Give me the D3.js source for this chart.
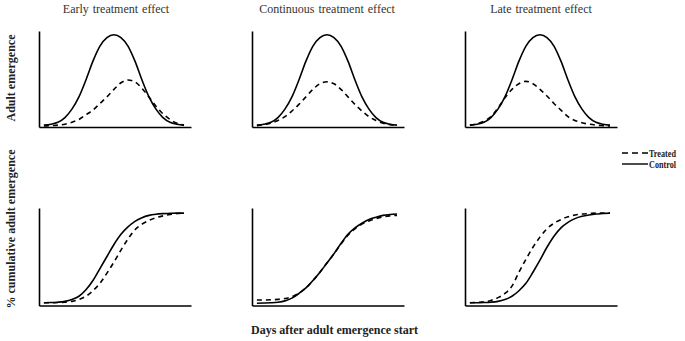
<!DOCTYPE html>
<html>
<head>
<meta charset="utf-8">
<script src="https://cdn.jsdelivr.net/npm/d3@7"></script>
<style>
  body { margin: 0; background: #fff; }
  svg { display: block; font-family: "Liberation Serif", "Times New Roman", serif; }
</style>
</head>
<body>
<div id="chart"></div>
<script>
// days after adult emergence start (half-day steps)
const days = [0, 0.5, 1, 1.5, 2, 2.5, 3, 3.5, 4, 4.5, 5, 5.5, 6, 6.5, 7, 7.5, 8, 8.5, 9, 9.5, 10]

const titles = ["Early treatment effect", "Continuous treatment effect", "Late treatment effect"]
const rowLabels = ["Adult emergence", "% cumulative adult emergence"]
const xLabel = "Days after adult emergence start"
const legendLabels = ["Treated", "Control"]

// adult emergence (top row)
const earlyControl = [2, 3, 5, 10, 19, 32, 50, 70, 86, 95, 98, 95, 86, 70, 50, 32, 19, 10, 5, 3, 2]
const earlyTreated = [1, 1.5, 2, 3, 5, 8, 13, 18, 25, 32, 40, 47, 50, 48, 41, 32, 22, 14, 8, 4, 2]
const contControl = [2, 3, 5, 10, 19, 32, 50, 70, 86, 95, 98, 95, 86, 70, 50, 32, 19, 10, 5, 3, 2]
const contTreated = [1.5, 2.5, 4, 7, 11, 17, 24, 32, 40, 46, 48, 46, 40, 32, 24, 17, 11, 7, 4, 2.5, 1.5]
const lateControl = [2, 3, 5, 10, 19, 32, 50, 70, 86, 95, 98, 95, 86, 70, 50, 32, 19, 10, 5, 3, 2]
const lateTreated = [2, 3.5, 6, 11, 20, 31, 40, 46, 48.5, 46, 40, 33, 25, 18, 11, 7, 4.5, 3, 2, 1.5, 1]

// % cumulative adult emergence (bottom row)
const earlyControlCum = [3, 3.2, 3.6, 4.5, 6.5, 10, 17, 27, 40, 53, 66, 77, 85, 91, 95, 97.5, 98.8, 99.4, 99.7, 100, 100]
const earlyTreatedCum = [3, 3, 3.2, 3.6, 4.5, 6.5, 10, 16, 24, 35, 47, 60, 72, 82, 88, 92, 95, 97, 98.5, 99.5, 100]
const contControlCum = [2.5, 2.7, 3, 3.6, 5, 8, 13, 19, 27, 36, 46, 56, 67, 77, 84, 89, 93, 95.5, 97.5, 98.5, 99]
const contTreatedCum = [6, 6, 6.2, 6.6, 7.5, 9.5, 13.5, 19, 27, 36, 46, 56, 66.5, 76, 83, 88, 91.5, 94, 96, 97, 97.5]
const lateControlCum = [3, 3, 3.2, 3.6, 4.5, 6.5, 10, 16, 24, 36, 49, 63, 75, 84, 90, 94, 96.5, 98, 99, 99.5, 100]
const lateTreatedCum = [3, 3.3, 4, 5.5, 8.5, 13, 21, 36, 50, 63, 74, 83, 89, 93, 96, 98, 99, 99.5, 100, 100, 100]

const rows = [
  [[earlyControl, earlyTreated], [contControl, contTreated], [lateControl, lateTreated]],
  [[earlyControlCum, earlyTreatedCum], [contControlCum, contTreatedCum], [lateControlCum, lateTreatedCum]]
]

const width = 685
const height = 341
const colLeft = [39, 252, 465]
const panelW = 152
const rowBox = [
  { bottom: 127, top: 31, max: 102 },
  { bottom: 305.5, top: 208, max: 105.5 }
]

const svg = d3.select("#chart")
  .append("svg")
  .attr("width", width)
  .attr("height", height)

svg.append("rect").attr("width", width).attr("height", height).attr("fill", "#fff")

rows.forEach((panels, r) => {
  const box = rowBox[r]
  const y = d3.scaleLinear().domain([0, box.max]).range([box.bottom, box.top])

  panels.forEach((series, c) => {
    const left = colLeft[c]
    const x = d3.scaleLinear().domain([-0.35, 10.5]).range([left, left + panelW])
    const g = svg.append("g")

    // bare axes, no ticks
    g.append("g")
      .attr("transform", "translate(" + left + ",0)")
      .call(d3.axisLeft(y).tickValues([]).tickSizeOuter(0))
      .select(".domain").attr("stroke", "#000").attr("stroke-width", 1.6)

    g.append("g")
      .attr("transform", "translate(0," + box.bottom + ")")
      .call(d3.axisBottom(x).tickValues([]).tickSizeOuter(0))
      .select(".domain").attr("stroke", "#000").attr("stroke-width", 1.6)

    const line = d3.line()
      .x((d, i) => x(days[i]))
      .y(d => y(d))
      .curve(d3.curveMonotoneX)

    // control (solid)
    g.append("path")
      .datum(series[0])
      .attr("d", line)
      .attr("fill", "none")
      .attr("stroke", "#000")
      .attr("stroke-width", 1.6)

    // treated (dashed)
    g.append("path")
      .datum(series[1])
      .attr("d", line)
      .attr("fill", "none")
      .attr("stroke", "#000")
      .attr("stroke-width", 1.6)
      .attr("stroke-dasharray", "5,4")
  })
})

// column titles
const titleX = [116, 327, 541]
titles.forEach((t, i) => {
  svg.append("text")
    .attr("x", titleX[i])
    .attr("y", 13)
    .attr("text-anchor", "middle")
    .style("font-size", "12px")
    .style("word-spacing", "1px")
    .attr("fill", "#333")
    .text(t)
})

// row labels
const rowLabelY = [78, 229]
rowLabels.forEach((t, i) => {
  svg.append("text")
    .attr("transform", "translate(15," + rowLabelY[i] + ") rotate(-90)")
    .attr("text-anchor", "middle")
    .style("font-size", "12px")
    .style("font-weight", "bold")
    .attr("fill", "#222")
    .text(t)
})

// x label
svg.append("text")
  .attr("x", 334.5)
  .attr("y", 334)
  .attr("text-anchor", "middle")
  .style("font-size", "12px")
  .style("font-weight", "bold")
  .attr("fill", "#222")
  .text(xLabel)

// legend
const legend = svg.append("g")
legendLabels.forEach((t, i) => {
  const ly = 153 + i * 11
  legend.append("line")
    .attr("x1", 622).attr("x2", 648)
    .attr("y1", ly).attr("y2", ly)
    .attr("stroke", "#000")
    .attr("stroke-width", 1.4)
    .attr("stroke-dasharray", i === 0 ? "6,4" : null)
  legend.append("text")
    .attr("x", 649)
    .attr("y", ly + 4)
    .attr("textLength", 27)
    .attr("lengthAdjust", "spacingAndGlyphs")
    .style("font-size", "11px")
    .style("font-weight", "bold")
    .attr("fill", "#222")
    .text(t)
})
</script>
</body>
</html>
